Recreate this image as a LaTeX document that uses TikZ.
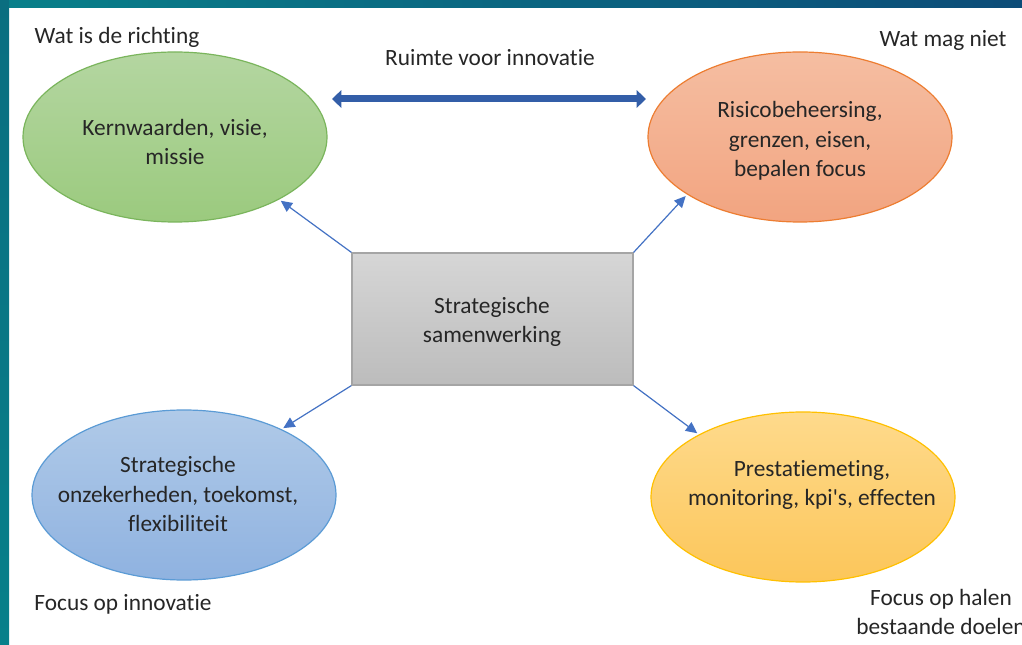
\documentclass[tikz,border=0pt]{standalone}
\usepackage{fontspec}
\setmainfont{Carlito}[Ligatures={NoCommon}]
\usepackage{tikz}
\usetikzlibrary{shapes.geometric,arrows.meta}

\definecolor{framel}{HTML}{08808A}
\definecolor{framer}{HTML}{0C4C78}
\definecolor{framet}{HTML}{0A6E80}
\definecolor{linkblue}{HTML}{4472C4}
\definecolor{bandblue}{HTML}{335EA8}

\tikzset{
  txt/.style={align=center,font=\fontsize{17.5}{22}\selectfont,text=black!85,inner sep=0pt},
  oval/.style={ellipse,minimum width=228pt,minimum height=127.5pt,line width=0.9pt},
  link/.style={linkblue,line width=0.9pt,-{Triangle[length=8.5pt,width=8pt]},shorten >=1.5pt}
}

\begin{document}
\begin{tikzpicture}[x=0.75pt,y=-0.75pt]
    \useasboundingbox (0,0) rectangle (1022,645);
    % frame
    \fill[white] (0,0) rectangle (1022,645);
    \shade[left color=framel,right color=framer] (0,0) rectangle (1022,8);
    \shade[top color=framet,bottom color=framel] (0,0) rectangle (9,645);

    % ovals
    \node[oval,draw={rgb,255:red,122;green,181;blue,92},top color={rgb,255:red,180;green,214;blue,161},bottom color={rgb,255:red,155;green,202;blue,126}]
      (kern) at (175,137) {};
    \node[oval,draw={rgb,255:red,237;green,125;blue,49},top color={rgb,255:red,245;green,190;blue,162},bottom color={rgb,255:red,242;green,164;blue,128}]
      (risico) at (800,137) {};
    \node[oval,draw={rgb,255:red,91;green,155;blue,213},top color={rgb,255:red,176;green,202;blue,232},bottom color={rgb,255:red,143;green,178;blue,224}]
      (onzeker) at (184,495) {};
    \node[oval,draw={rgb,255:red,255;green,192;blue,0},top color={rgb,255:red,254;green,218;blue,140},bottom color={rgb,255:red,252;green,198;blue,90}]
      (prestatie) at (803,497) {};

    % centre box
    \node[draw={rgb,255:red,165;green,165;blue,165},line width=0.9pt,minimum width=210.75pt,minimum height=99pt,
      top color={rgb,255:red,214;green,214;blue,214},bottom color={rgb,255:red,188;green,188;blue,188}]
      (samen) at (492.5,319) {};

    % texts in shapes
    \node[txt] (kerntxt) at (175,142) {Kernwaarden, visie,\\missie};
    \node[txt] (risicotxt) at (800,141) {Risicobeheersing,\\grenzen, eisen,\\bepalen focus};
    \node[txt] (onzekertxt) at (178,494) {Strategische\\onzekerheden, toekomst,\\flexibiliteit};
    \node[txt] (prestatietxt) at (812,485) {Prestatiemeting,\\monitoring, kpi\textquotesingle s, effecten};
    \node[txt] (samentxt) at (492,322) {Strategische\\samenwerking};

    % corner labels
    \node[txt] (richting) at (117,37) {Wat is de richting};
    \node[txt] (magniet) at (943,40) {Wat mag niet};
    \node[txt] (ruimte) at (490,58) {Ruimte voor innovatie};
    \node[txt] (focusinno) at (123,604) {Focus op innovatie};
    \node[txt] (focushalen) at (941,612) {Focus op halen\\bestaande doelen};

    % connectors
    \coordinate (bandl) at (332,99);
    \coordinate (bandr) at (646,99);
    \draw[bandblue,line width=5.25pt,{Triangle[length=7pt,width=13pt]}-{Triangle[length=7pt,width=13pt]}] (bandl) -- (bandr);
    \draw[link] (samen.north west) -- (kern.-31);
    \draw[link] (samen.north east) -- (risico.207);
    \draw[link] (samen.south west) -- (onzeker.34);
    \draw[link] (samen.south east) -- (prestatie.149);
\end{tikzpicture}
\end{document}
